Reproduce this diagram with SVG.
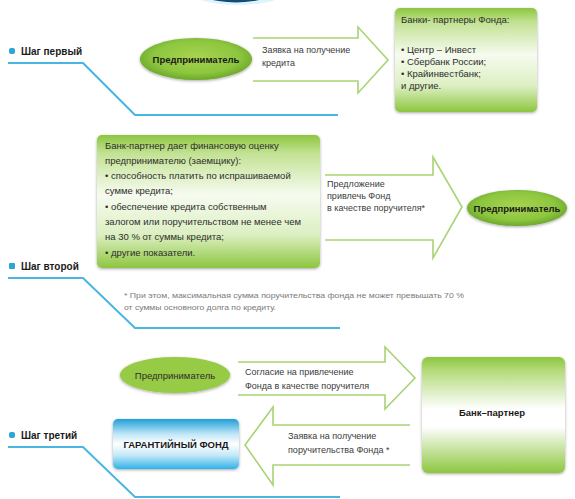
<svg xmlns="http://www.w3.org/2000/svg" width="575" height="499" viewBox="0 0 575 499">
<defs>
  <linearGradient id="gBox" x1="0" y1="0" x2="0" y2="1">
    <stop offset="0" stop-color="#8dc63f"/>
    <stop offset="0.14" stop-color="#c3e294"/>
    <stop offset="0.45" stop-color="#f6fbef"/>
    <stop offset="0.75" stop-color="#dcefc2"/>
    <stop offset="1" stop-color="#8dc63f"/>
  </linearGradient>
  <linearGradient id="gBank" x1="0" y1="0" x2="0" y2="1">
    <stop offset="0" stop-color="#8dc63f"/>
    <stop offset="0.12" stop-color="#b5db7c"/>
    <stop offset="0.45" stop-color="#ffffff"/>
    <stop offset="0.6" stop-color="#ffffff"/>
    <stop offset="1" stop-color="#8dc63f"/>
  </linearGradient>
  <linearGradient id="gFund" x1="0" y1="0" x2="0" y2="1">
    <stop offset="0" stop-color="#1f9fd8"/>
    <stop offset="0.3" stop-color="#bfe6f7"/>
    <stop offset="0.5" stop-color="#ffffff"/>
    <stop offset="0.72" stop-color="#c6e9f8"/>
    <stop offset="1" stop-color="#2fb3e8"/>
  </linearGradient>
  <radialGradient id="gEnt" cx="0.5" cy="0.45" r="0.55">
    <stop offset="0" stop-color="#a8d44f"/>
    <stop offset="0.7" stop-color="#8dc63f"/>
    <stop offset="1" stop-color="#6da82c"/>
  </radialGradient>
  <filter id="soft" x="-10%" y="-10%" width="120%" height="130%">
    <feGaussianBlur in="SourceAlpha" stdDeviation="1.5"/>
    <feOffset dy="1"/>
    <feComponentTransfer><feFuncA type="linear" slope="0.35"/></feComponentTransfer>
    <feMerge><feMergeNode/><feMergeNode in="SourceGraphic"/></feMerge>
  </filter>
</defs>
<style>
  .t{font-family:"Liberation Sans",Arial,sans-serif;font-size:9px;fill:#3c3c3c}
  .tb{font-family:"Liberation Sans",Arial,sans-serif;font-size:9.5px;fill:#2d2d2d}
  .step{font-family:"Liberation Sans",Arial,sans-serif;font-size:10px;font-weight:bold;fill:#1a1a1a}
  .ent{font-family:"Liberation Sans",Arial,sans-serif;font-size:9.5px;font-weight:bold;fill:#1a1a1a}
  .arrow{fill:#ffffff;stroke:#a9d374;stroke-width:1.6;stroke-linejoin:miter}
  .sline{fill:none;stroke:#49b6e2;stroke-width:2}
  .bullet{fill:#2aa6d9}
  .foot{font-family:"Liberation Sans",Arial,sans-serif;font-size:7.5px;fill:#7a7a7a}
</style>
<rect width="575" height="499" fill="#ffffff"/>

<g id="top-ornament">
  <ellipse cx="238" cy="-16" rx="58" ry="21" fill="#dff3fc"/>
  <ellipse cx="236" cy="-16" rx="46" ry="18.5" fill="#0f4c78"/>
</g>

<g id="step-lines">
  <polyline class="sline" points="8,63 83,63 135,115 338,115"/>
  <polyline class="sline" points="8,278 83,278 135,328 340,328"/>
  <polyline class="sline" points="8,447 83,447 135,497 340,497"/>
</g>

<g id="step1-label">
  <rect class="bullet" x="9" y="48" width="6" height="6" rx="2"/>
  <text class="step" x="21" y="55">Шаг первый</text>
</g>
<g id="step2-label">
  <rect class="bullet" x="9" y="263" width="6" height="6" rx="1"/>
  <text class="step" x="21" y="270">Шаг второй</text>
</g>
<g id="step3-label">
  <rect class="bullet" x="9" y="432" width="6" height="6" rx="2"/>
  <text class="step" x="21" y="439">Шаг третий</text>
</g>

<g id="connectors">
  <path id="arrow1" class="arrow" d="M253,38 H358 V27 L388,60 L358,93 V81 H253"/>
  <path id="arrow2" class="arrow" d="M325,175 H433 V157 L462,207 L433,258 V240 H325"/>
  <path id="arrow3" class="arrow" d="M238,362 H385 V347 L415,378 L385,409 V395 H238"/>
  <path id="arrow4" class="arrow" d="M410,425 H273 V407 L245,445 L273,485 V465 H410"/>
</g>

<g id="arrow-labels">
  <text class="t" x="262" y="53">Заявка на получение</text>
  <text class="t" x="262" y="66">кредита</text>
  <text class="t" x="327" y="187">Предложение</text>
  <text class="t" x="327" y="199">привлечь Фонд</text>
  <text class="t" x="327" y="211">в качестве поручителя*</text>
  <text class="t" x="245" y="375">Согласие на привлечение</text>
  <text class="t" x="245" y="389">Фонда в качестве поручителя</text>
  <text class="t" x="288" y="439">Заявка на получение</text>
  <text class="t" x="288" y="453">поручительства Фонда *</text>
</g>

<g id="entrepreneur1">
  <ellipse cx="196" cy="59" rx="56" ry="21" fill="url(#gEnt)" filter="url(#soft)"/>
  <text class="ent" x="196" y="62.5" text-anchor="middle">Предприниматель</text>
</g>

<g id="partner-banks">
  <rect x="395" y="8" width="142" height="104" rx="5" fill="url(#gBox)" filter="url(#soft)"/>
  <text class="tb" x="401" y="23">Банки- партнеры Фонда:</text>
  <text class="tb" x="401" y="53">• Центр – Инвест</text>
  <text class="tb" x="401" y="65">• Сбербанк России;</text>
  <text class="tb" x="401" y="77">• Крайинвестбанк;</text>
  <text class="tb" x="401" y="89">и другие.</text>
</g>

<g id="assessment">
  <rect x="97" y="135" width="223" height="133" rx="5" fill="url(#gBox)" filter="url(#soft)"/>
  <text class="tb" x="105" y="149">Банк-партнер дает финансовую оценку</text>
  <text class="tb" x="105" y="164">предпринимателю (заемщику):</text>
  <text class="tb" x="105" y="179">• способность платить по испрашиваемой</text>
  <text class="tb" x="105" y="194">сумме кредита;</text>
  <text class="tb" x="105" y="210">• обеспечение кредита собственным</text>
  <text class="tb" x="105" y="225">залогом или поручительством не менее чем</text>
  <text class="tb" x="105" y="240">на 30 % от суммы кредита;</text>
  <text class="tb" x="105" y="256">• другие показатели.</text>
</g>

<g id="entrepreneur2">
  <ellipse cx="517" cy="208" rx="50" ry="18" fill="url(#gEnt)" filter="url(#soft)"/>
  <text class="ent" x="517" y="211.5" text-anchor="middle" font-size="8.5">Предприниматель</text>
</g>

<g id="footnote">
  <text class="foot" x="124" y="298" textLength="340" lengthAdjust="spacingAndGlyphs">* При этом, максимальная сумма поручительства фонда не может превышать 70 %</text>
  <text class="foot" x="124" y="310" textLength="152" lengthAdjust="spacingAndGlyphs">от суммы основного долга по кредиту.</text>
</g>

<g id="entrepreneur3">
  <ellipse cx="175" cy="375" rx="55" ry="18" fill="#97cb45" filter="url(#soft)"/>
  <text class="tb" x="175" y="378.5" text-anchor="middle" fill="#333">Предприниматель</text>
</g>

<g id="bank-partner">
  <rect x="422" y="357" width="143" height="116" rx="6" fill="url(#gBank)" filter="url(#soft)"/>
  <text class="ent" x="492" y="416" text-anchor="middle">Банк–партнер</text>
</g>

<g id="guarantee-fund">
  <rect x="113" y="419" width="126" height="50" rx="5" fill="url(#gFund)" filter="url(#soft)"/>
  <text class="ent" x="176" y="448" text-anchor="middle" font-size="10.5">ГАРАНТИЙНЫЙ ФОНД</text>
</g>
</svg>
